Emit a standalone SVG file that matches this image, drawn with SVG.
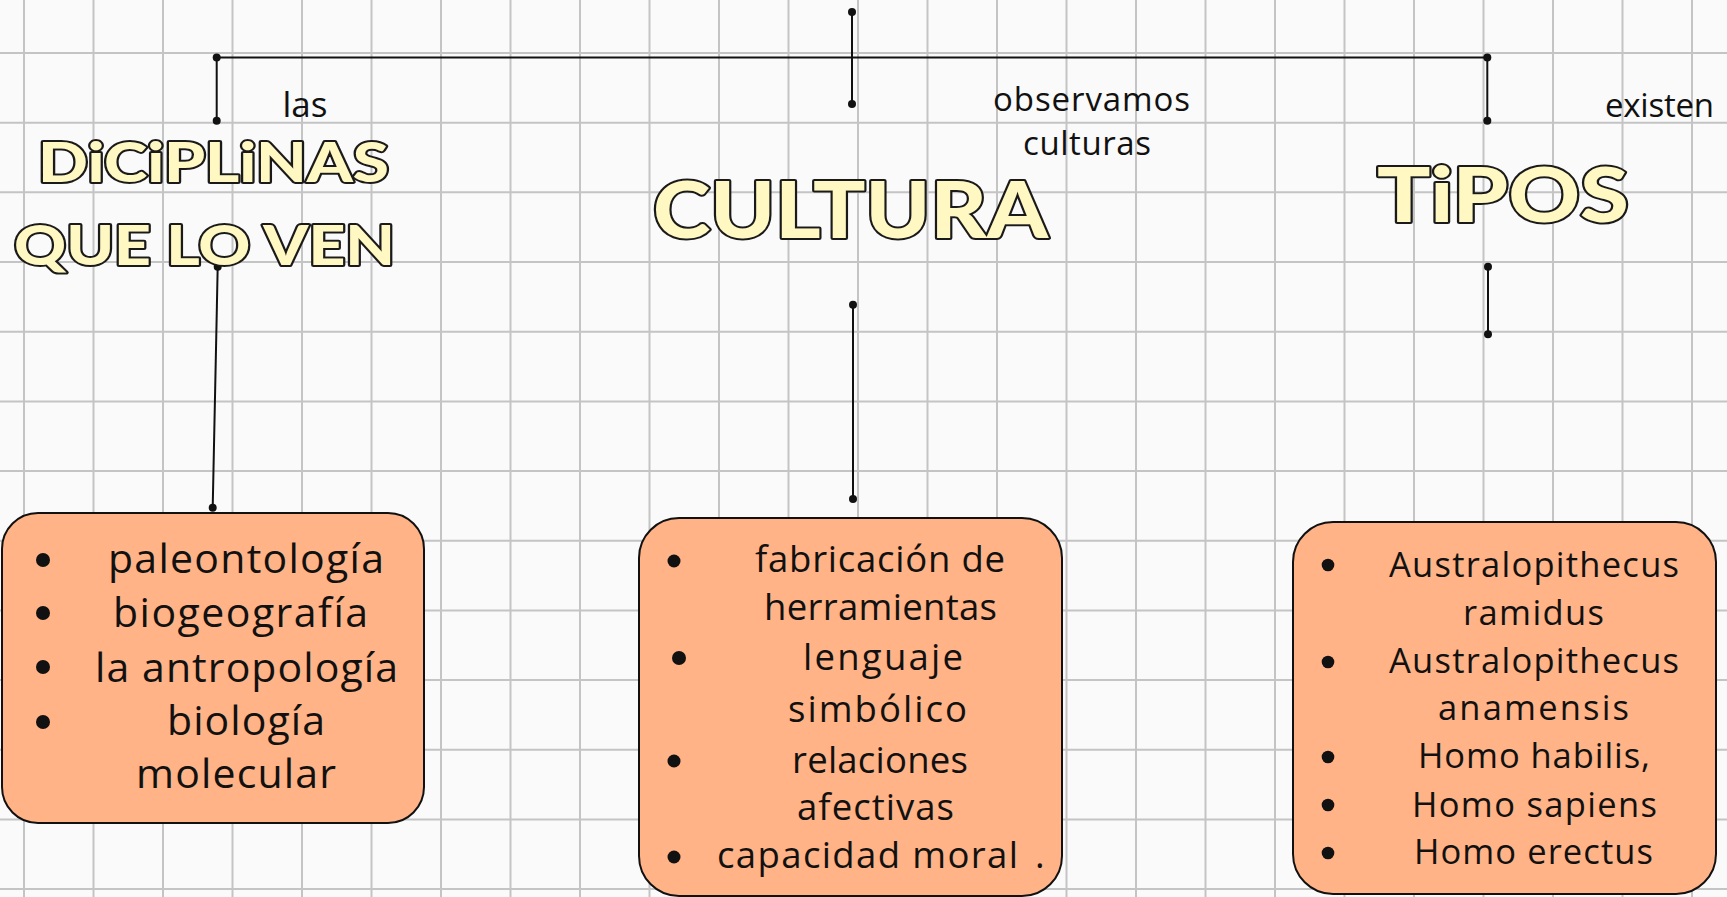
<svg xmlns="http://www.w3.org/2000/svg" width="1727" height="897" viewBox="0 0 1727 897">
<style>
.grid{stroke:#c4c4c4;stroke-width:2;fill:none}
.conn{stroke:#111;stroke-width:2;fill:none}
.dot{fill:#111}
.box{fill:#ffb386;stroke:#111;stroke-width:2}
.t{font-family:"Open Sans","Noto Sans",sans-serif;fill:#111}
.lg{font-size:41px}
.md{font-size:36.5px}
.sm{font-size:34.5px}
.lb{font-size:33px}
.bul{fill:#111}
.head{font-family:"Lato","DejaVu Sans",sans-serif;font-weight:900;fill:#fff8c2;stroke:#1a1a1a;stroke-width:4;paint-order:stroke;stroke-linejoin:round}
</style>
<rect x="0" y="0" width="1727" height="897" fill="#fafafa"/>
<g id="grid">
<path class="grid" d="M24 0V897M93.5 0V897M163 0V897M232.5 0V897M302 0V897M371.5 0V897M441 0V897M510.5 0V897M580 0V897M649.5 0V897M719 0V897M788.5 0V897M858 0V897M927.5 0V897M997 0V897M1066.5 0V897M1136 0V897M1205.5 0V897M1275 0V897M1344.5 0V897M1414 0V897M1483.5 0V897M1553 0V897M1622.5 0V897M1692 0V897"/>
<path class="grid" d="M0 53H1727M0 122.7H1727M0 192.3H1727M0 262H1727M0 331.7H1727M0 401.4H1727M0 471H1727M0 540.7H1727M0 610.4H1727M0 680H1727M0 749.7H1727M0 819.4H1727M0 889H1727"/>
</g>
<g id="connectors">
<path class="conn" d="M216.7 57.5H1487.3"/>
<path class="conn" d="M216.7 57.5V120.7"/>
<path class="conn" d="M852 12V104"/>
<path class="conn" d="M1487.3 57.5V120.7"/>
<path class="conn" d="M1488 266.7V334.3"/>
<path class="conn" d="M217.7 266.7L212.7 507.7"/>
<path class="conn" d="M853 304.7V499"/>
<circle class="dot" cx="216.7" cy="57.5" r="4"/>
<circle class="dot" cx="216.7" cy="120.7" r="4"/>
<circle class="dot" cx="852" cy="12" r="4"/>
<circle class="dot" cx="852" cy="104" r="4"/>
<circle class="dot" cx="1487.3" cy="57.5" r="4"/>
<circle class="dot" cx="1487.3" cy="120.7" r="4"/>
<circle class="dot" cx="1488" cy="266.7" r="4"/>
<circle class="dot" cx="1488" cy="334.3" r="4"/>
<circle class="dot" cx="217.7" cy="266.7" r="4"/>
<circle class="dot" cx="212.7" cy="507.7" r="4"/>
<circle class="dot" cx="853" cy="304.7" r="4"/>
<circle class="dot" cx="853" cy="499" r="4"/>
</g>
<g id="labels">
<text class="t" x="305" y="117" font-size="35" text-anchor="middle">las</text>
<text class="t lb" x="993" y="111" textLength="197">observamos</text>
<text class="t lb" x="1023" y="155" textLength="128">culturas</text>
<text class="t lb" x="1605" y="117" textLength="109">existen</text>
</g>
<g id="node-disciplinas">
<text class="head" x="38" y="182" font-size="56" textLength="351" lengthAdjust="spacingAndGlyphs">DiCiPLiNAS</text>
<text class="head" x="14" y="265" font-size="56" textLength="381" lengthAdjust="spacingAndGlyphs">QUE LO VEN</text>
</g>
<g id="node-cultura">
<text class="head" x="653" y="238" font-size="78" textLength="395" lengthAdjust="spacingAndGlyphs">CULTURA</text>
</g>
<g id="node-tipos">
<text class="head" x="1377" y="222" font-size="76" textLength="252" lengthAdjust="spacingAndGlyphs">TiPOS</text>
</g>
<g id="node-lista-disciplinas">
<rect class="box" x="2" y="513" width="422" height="310" rx="36"/>
<circle class="bul" cx="43" cy="560" r="7"/>
<circle class="bul" cx="43" cy="613" r="7"/>
<circle class="bul" cx="43" cy="667" r="7"/>
<circle class="bul" cx="43" cy="722" r="7"/>
<text class="t lg" x="108" y="573" textLength="276">paleontología</text>
<text class="t lg" x="113" y="627" textLength="255">biogeografía</text>
<text class="t lg" x="95" y="682" textLength="303">la antropología</text>
<text class="t lg" x="167" y="735" textLength="158">biología</text>
<text class="t lg" x="136" y="788" textLength="200">molecular</text>
</g>
<g id="node-lista-cultura">
<rect class="box" x="639" y="518" width="423" height="378" rx="40"/>
<circle class="bul" cx="674" cy="561" r="6.5"/>
<circle class="bul" cx="679" cy="658" r="7"/>
<circle class="bul" cx="674" cy="761" r="6.5"/>
<circle class="bul" cx="674" cy="857" r="6.5"/>
<text class="t md" x="755" y="572" textLength="250">fabricación de</text>
<text class="t md" x="764" y="620" textLength="233">herramientas</text>
<text class="t md" x="803" y="670" textLength="160">lenguaje</text>
<text class="t md" x="788" y="722" textLength="179">simbólico</text>
<text class="t md" x="792" y="773" textLength="176">relaciones</text>
<text class="t md" x="797" y="820" textLength="157">afectivas</text>
<text class="t md" x="717" y="868"><tspan textLength="301">capacidad moral</tspan><tspan x="1035">.</tspan></text>
</g>
<g id="node-lista-tipos">
<rect class="box" x="1293" y="522" width="423" height="372" rx="40"/>
<circle class="bul" cx="1328" cy="565" r="6.3"/>
<circle class="bul" cx="1328" cy="662" r="6.3"/>
<circle class="bul" cx="1328" cy="757" r="6.3"/>
<circle class="bul" cx="1328" cy="805" r="6.3"/>
<circle class="bul" cx="1328" cy="853" r="6.3"/>
<text class="t sm" x="1389" y="577" textLength="290">Australopithecus</text>
<text class="t sm" x="1463" y="625" textLength="141">ramidus</text>
<text class="t sm" x="1389" y="673" textLength="290">Australopithecus</text>
<text class="t sm" x="1438" y="720" textLength="191">anamensis</text>
<text class="t sm" x="1418" y="768" textLength="232">Homo habilis,</text>
<text class="t sm" x="1412" y="817" textLength="245">Homo sapiens</text>
<text class="t sm" x="1414" y="864" textLength="239">Homo erectus</text>
</g>
</svg>
